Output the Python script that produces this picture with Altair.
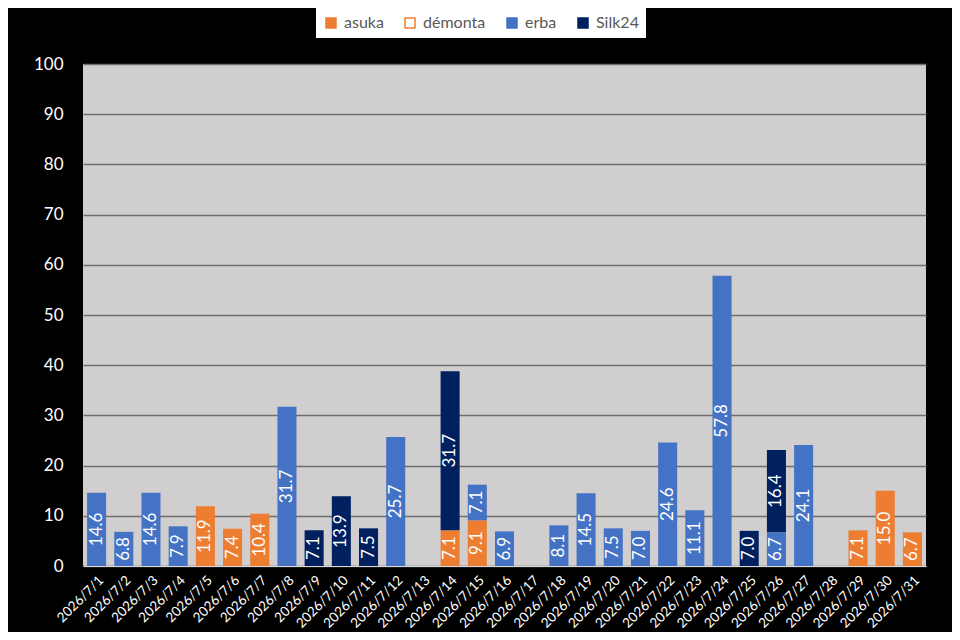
import altair as alt
import pandas as pd

dates = ["2026/7/1", "2026/7/2", "2026/7/3", "2026/7/4", "2026/7/5", "2026/7/6",
         "2026/7/7", "2026/7/8", "2026/7/9", "2026/7/10", "2026/7/11", "2026/7/12",
         "2026/7/13", "2026/7/14", "2026/7/15", "2026/7/16", "2026/7/17", "2026/7/18",
         "2026/7/19", "2026/7/20", "2026/7/21", "2026/7/22", "2026/7/23", "2026/7/24",
         "2026/7/25", "2026/7/26", "2026/7/27", "2026/7/28", "2026/7/29", "2026/7/30",
         "2026/7/31"]

series_names = ["asuka", "démonta", "erba", "Silk24"]

asuka = [0, 0, 0, 0, 11.9, 7.4, 10.4, 0, 0, 0, 0, 0, 0, 7.1, 9.1, 0,
         0, 0, 0, 0, 0, 0, 0, 0, 0, 0, 0, 0, 7.1, 15.0, 6.7]
demonta = [0, 0, 0, 0, 0, 0, 0, 0, 0, 0, 0, 0, 0, 0, 0, 0,
           0, 0, 0, 0, 0, 0, 0, 0, 0, 0, 0, 0, 0, 0, 0]
erba = [14.6, 6.8, 14.6, 7.9, 0, 0, 0, 31.7, 0, 0, 0, 25.7, 0, 0, 7.1, 6.9,
        0, 8.1, 14.5, 7.5, 7.0, 24.6, 11.1, 57.8, 0, 6.7, 24.1, 0, 0, 0, 0]
silk24 = [0, 0, 0, 0, 0, 0, 0, 0, 7.1, 13.9, 7.5, 0, 0, 31.7, 0, 0,
          0, 0, 0, 0, 0, 0, 0, 0, 7.0, 16.4, 0, 0, 0, 0, 0]

fills = ["#ED7D31", "#FFFFFF", "#4472C4", "#002060"]
strokes = ["#ED7D31", "#ED7D31", "#4472C4", "#002060"]

rows = []
for k, (name, vals) in enumerate(zip(series_names, [asuka, demonta, erba, silk24])):
    for d, v in zip(dates, vals):
        if v > 0:
            rows.append({"date": d, "series": name, "value": v, "order": k})
df = pd.DataFrame(rows)

FONT = "Lato"

legend = alt.Legend(
    title=None, orient="none", legendX=233, legendY=-56, direction="horizontal",
    fillColor="white", padding=7, labelColor="#595959", labelFont=FONT,
    labelFontSize=16, symbolType="square", symbolSize=100, labelOffset=5,
    columnPadding=18, symbolStrokeWidth=1.5,
)

xscale = alt.Scale(domain=dates, paddingInner=0.3, paddingOuter=0.15)

xenc = alt.X(
    "date:N", title=None, scale=xscale,
    axis=alt.Axis(labelAngle=315, labelColor="white", labelFont=FONT, labelFontSize=13.5,
                  ticks=False, domainColor="#D9D9D9", domainWidth=1, labelPadding=7,
                  labelOverlap=False, grid=False),
)

base = alt.Chart(df).transform_stack(
    stack="value", groupby=["date"], as_=["y0", "y1"], sort=[alt.SortField("order")]
).transform_calculate(mid="(datum.y0 + datum.y1) / 2")

bars = base.mark_bar(strokeWidth=0).encode(
    x=xenc,
    y=alt.Y("y0:Q", title=None, scale=alt.Scale(domain=[0, 100]),
            axis=alt.Axis(values=[0, 10, 20, 30, 40, 50, 60, 70, 80, 90, 100],
                          labelColor="white", labelFont=FONT, labelFontSize=17,
                          ticks=False, domain=False, gridColor="#6E6E6E", gridWidth=1.3,
                          labelPadding=20)),
    y2="y1:Q",
    fill=alt.Fill("series:N", scale=alt.Scale(domain=series_names, range=fills), legend=legend),
    stroke=alt.Stroke("series:N", scale=alt.Scale(domain=series_names, range=strokes), legend=legend),
)

labels = base.mark_text(angle=270, color="white", font=FONT, fontSize=17,
                        align="center", baseline="middle").encode(
    x=alt.X("date:N", scale=xscale),
    y=alt.Y("mid:Q"),
    text=alt.Text("value:Q", format=".1f"),
)

chart = alt.layer(bars, labels).properties(
    width=843, height=502,
    autosize=alt.AutoSizeParams(type="none"),
    padding={"left": 75, "top": 56, "right": 26, "bottom": 66},
    background="black",
).configure_view(fill="#D0CECE", strokeWidth=0)

chart.save("out.html", embed_options={"renderer": "svg", "actions": False})
